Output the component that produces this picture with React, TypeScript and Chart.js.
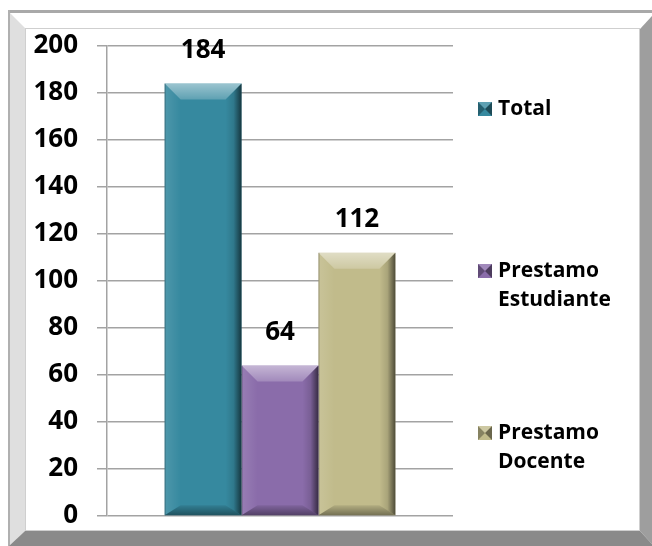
import React, { useEffect, useRef } from "react";
import { Chart, registerables } from "chart.js";

Chart.register(...registerables);

// ---- data ----
const categories = [""];
const seriesNames = ["Total", "Prestamo Estudiante", "Prestamo Docente"];
const totalValues = [184];
const estudianteValues = [64];
const docenteValues = [112];
const seriesColors = ["#36899f", "#8a6caa", "#c1bb8b"];
const yMin = 0;
const yMax = 200;
const yStep = 20;

const FONT = "'Open Sans', Lato, 'DejaVu Sans', sans-serif";

const framePlugin = {
  id: "frame",
  beforeDraw(chart: any) {
    const ctx = chart.ctx as CanvasRenderingContext2D;
    const W = chart.width;
    const H = chart.height;
    ctx.save();
    ctx.fillStyle = "#ffffff";
    ctx.fillRect(0, 0, W, H);
    ctx.fillStyle = "#a9a9a9";
    ctx.fillRect(8, 10, W - 8, 3);
    ctx.fillStyle = "#dfdfdf";
    ctx.beginPath();
    ctx.moveTo(9, 12);
    ctx.lineTo(25, 28);
    ctx.lineTo(25, 531);
    ctx.lineTo(9, 546);
    ctx.closePath();
    ctx.fill();
    ctx.fillStyle = "#b0b0b0";
    ctx.fillRect(8, 10, 2, H - 10);
    ctx.fillStyle = "#9e9e9e";
    ctx.beginPath();
    ctx.moveTo(W, 16);
    ctx.lineTo(640, 29);
    ctx.lineTo(640, 531);
    ctx.lineTo(W, 544);
    ctx.closePath();
    ctx.fill();
    ctx.fillStyle = "#8a8a8a";
    ctx.beginPath();
    ctx.moveTo(9, H);
    ctx.lineTo(25, 531);
    ctx.lineTo(640, 531);
    ctx.lineTo(W, 544);
    ctx.lineTo(W, H);
    ctx.closePath();
    ctx.fill();
    ctx.strokeStyle = "#cfcfcf";
    ctx.lineWidth = 1;
    ctx.strokeRect(25.5, 28.5, 614, 502);
    ctx.restore();
  },
};

const bevelPlugin = {
  id: "bevel",
  afterDatasetsDraw(chart: any) {
    const ctx = chart.ctx as CanvasRenderingContext2D;
    ctx.save();
    chart.data.datasets.forEach((ds: any, di: number) => {
      const meta = chart.getDatasetMeta(di);
      meta.data.forEach((bar: any, i: number) => {
        const p = bar.getProps(["x", "y", "base", "width"], true);
        const L = p.x - p.width / 2;
        const R = p.x + p.width / 2;
        const T = p.y;
        const B = p.base;
        const s = 16;
        const t = 16;
        const b = 10;
        let g = ctx.createLinearGradient(0, T, 0, T + t);
        g.addColorStop(0, "rgba(255,255,255,0.5)");
        g.addColorStop(1, "rgba(255,255,255,0.2)");
        ctx.fillStyle = g;
        ctx.beginPath();
        ctx.moveTo(L, T);
        ctx.lineTo(R, T);
        ctx.lineTo(R - s, T + t);
        ctx.lineTo(L + s, T + t);
        ctx.closePath();
        ctx.fill();
        g = ctx.createLinearGradient(R - s, 0, R, 0);
        g.addColorStop(0, "rgba(0,0,0,0)");
        g.addColorStop(0.5, "rgba(0,0,0,0.12)");
        g.addColorStop(1, "rgba(0,0,0,0.6)");
        ctx.fillStyle = g;
        ctx.beginPath();
        ctx.moveTo(R, T);
        ctx.lineTo(R - s, T + t);
        ctx.lineTo(R - s, B - b);
        ctx.lineTo(R, B);
        ctx.closePath();
        ctx.fill();
        g = ctx.createLinearGradient(0, B - b, 0, B);
        g.addColorStop(0, "rgba(0,0,0,0.08)");
        g.addColorStop(1, "rgba(0,0,0,0.4)");
        ctx.fillStyle = g;
        ctx.beginPath();
        ctx.moveTo(L, B);
        ctx.lineTo(L + s, B - b);
        ctx.lineTo(R - s, B - b);
        ctx.lineTo(R, B);
        ctx.closePath();
        ctx.fill();
        g = ctx.createLinearGradient(L, 0, L + s, 0);
        g.addColorStop(0, "rgba(255,255,255,0.12)");
        g.addColorStop(1, "rgba(255,255,255,0)");
        ctx.fillStyle = g;
        ctx.beginPath();
        ctx.moveTo(L, T);
        ctx.lineTo(L + s, T + t);
        ctx.lineTo(L + s, B - b);
        ctx.lineTo(L, B);
        ctx.closePath();
        ctx.fill();
        ctx.fillStyle = "rgba(0,0,0,0.25)";
        ctx.fillRect(L, T, 1, B - T);
        const v = ds.data[i];
        ctx.fillStyle = "#000";
        ctx.font = `bold 26px ${FONT}`;
        ctx.textAlign = "center";
        ctx.textBaseline = "middle";
        ctx.fillText(String(v), p.x, T - 33);
      });
    });
    ctx.restore();
  },
};

function wrapWords(ctx: CanvasRenderingContext2D, text: string, maxW: number) {
  const words = text.split(" ");
  const lines: string[] = [];
  let cur = "";
  words.forEach((w) => {
    const test = cur ? cur + " " + w : w;
    if (cur && ctx.measureText(test).width > maxW) {
      lines.push(cur);
      cur = w;
    } else cur = test;
  });
  if (cur) lines.push(cur);
  return lines;
}

const legendPlugin = {
  id: "sideLegend",
  afterDraw(chart: any) {
    const ctx = chart.ctx as CanvasRenderingContext2D;
    const area = chart.chartArea;
    const boxX = area.right + 25;
    const textX = boxX + 20;
    const firstY = 109;
    const step = 162;
    const lineH = 29;
    ctx.save();
    ctx.font = `bold 21px ${FONT}`;
    ctx.textBaseline = "middle";
    ctx.textAlign = "left";
    chart.data.datasets.forEach((ds: any, i: number) => {
      const cy = firstY + step * i;
      const bs = 14;
      const bx = boxX;
      const by = cy - bs / 2;
      ctx.fillStyle = ds.backgroundColor;
      ctx.fillRect(bx, by, bs, bs);
      const cx = bx + bs / 2;
      const cyy = by + bs / 2;
      const tri = (pts: number[][], col: string) => {
        ctx.fillStyle = col;
        ctx.beginPath();
        ctx.moveTo(pts[0][0], pts[0][1]);
        for (let k = 1; k < pts.length; k++) ctx.lineTo(pts[k][0], pts[k][1]);
        ctx.closePath();
        ctx.fill();
      };
      tri([[bx, by], [cx, cyy], [bx, by + bs]], "rgba(0,0,0,0.3)");
      tri([[bx + bs, by], [cx, cyy], [bx + bs, by + bs]], "rgba(0,0,0,0.45)");
      tri([[bx, by], [cx, cyy], [bx + bs, by]], "rgba(255,255,255,0.2)");
      ctx.fillStyle = "#000";
      const lines = wrapWords(ctx, ds.label, 120);
      lines.forEach((ln, k) => ctx.fillText(ln, textX, cy + k * lineH));
    });
    ctx.restore();
  },
};

export default function App() {
  const ref = useRef<HTMLCanvasElement | null>(null);
  useEffect(() => {
    if (!ref.current) return;
    const seriesData = [totalValues, estudianteValues, docenteValues];
    const chart = new Chart(ref.current, {
      type: "bar",
      data: {
        labels: categories,
        datasets: seriesNames.map((name, i) => ({
          label: name,
          data: seriesData[i],
          backgroundColor: seriesColors[i],
          borderWidth: 0,
          categoryPercentage: 0.667,
          barPercentage: 1,
        })),
      },
      options: {
        animation: false,
        responsive: false,
        devicePixelRatio: 1,
        layout: { padding: { left: 0, right: 199, top: 46, bottom: 30 } },
        plugins: { legend: { display: false }, tooltip: { enabled: false } },
        scales: {
          x: { display: false },
          y: {
            min: yMin,
            max: yMax,
            ticks: {
              stepSize: yStep,
              color: "#000",
              padding: 19,
              font: { family: FONT, weight: "bold", size: 26 },
            },
            grid: { color: "#a3a3a3", lineWidth: 1.5, tickLength: 10, drawTicks: true },
            border: { display: true, color: "#a3a3a3", width: 1.5 },
            afterFit(s: any) {
              s.width = 107;
              s.paddingTop = 16;
              s.paddingBottom = 16;
            },
          },
        },
      } as any,
      plugins: [framePlugin, bevelPlugin, legendPlugin],
    });
    return () => chart.destroy();
  }, []);
  return (
    <div style={{ position: "absolute", left: 0, top: 0, width: 652, height: 546 }}>
      <canvas ref={ref} width={652} height={546} style={{ display: "block", width: 652, height: 546 }} />
    </div>
  );
}
